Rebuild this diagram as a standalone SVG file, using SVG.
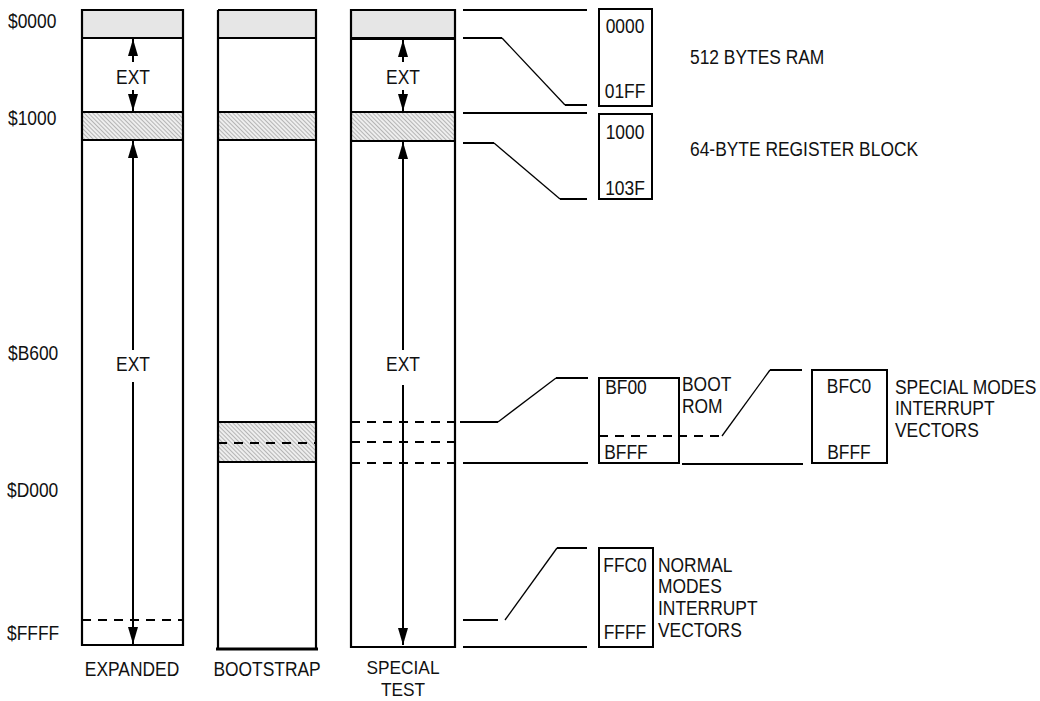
<svg xmlns="http://www.w3.org/2000/svg" width="1040" height="701" viewBox="0 0 1040 701">
<style>
text{font-family:"Liberation Sans",Arial,sans-serif;font-size:20px;fill:#111}
.m{text-anchor:middle}
.s{font-size:19px}
.col{fill:none;stroke:#000;stroke-width:2.2}
.ln{fill:none;stroke:#000;stroke-width:2}
.thin{fill:none;stroke:#000;stroke-width:1.3}
.dash{fill:none;stroke:#000;stroke-width:2;stroke-dasharray:9,7}
.arr{stroke:#000;stroke-width:2;fill:none}
.box{fill:#fff;stroke:#000;stroke-width:2}
</style>
<defs>
<pattern id="hatch" patternUnits="userSpaceOnUse" width="3" height="3" patternTransform="rotate(-45)">
<rect width="3" height="3" fill="#eeeeee"/>
<line x1="0" y1="0" x2="0" y2="3" stroke="#8f8f8f" stroke-width="1.2"/>
</pattern>
<marker id="ah" viewBox="0 0 17 10" refX="17" refY="5" markerWidth="17" markerHeight="10" markerUnits="userSpaceOnUse" orient="auto">
<path d="M0,0 L17,5 L0,10 z" fill="#000"/>
</marker>
</defs>

<g id="labels">
<text transform="translate(8 28) scale(.87 1)">$0000</text>
<text transform="translate(8 125) scale(.87 1)">$1000</text>
<text transform="translate(8 360) scale(.87 1)">$B600</text>
<text transform="translate(7 497) scale(.87 1)">$D000</text>
<text transform="translate(7 640) scale(.87 1)">$FFFF</text>
</g>

<g id="col-expanded">
<rect x="82" y="10" width="101" height="28" fill="#e6e6e6"/>
<rect x="82" y="112" width="101" height="28" fill="url(#hatch)"/>
<path class="col" d="M82,10 H183 V645 H82 Z M82,38 H183 M82,112 H183 M82,140 H183"/>
<path class="dash" d="M82,620 H183"/>
<text class="m" transform="translate(133 84) scale(.87 1)">EXT</text>
<text class="m" transform="translate(133 371) scale(.87 1)">EXT</text>
<text class="m" transform="translate(132 676) scale(.87 1)">EXPANDED</text>
</g>

<g id="col-bootstrap">
<rect x="218" y="10" width="98" height="28" fill="#e6e6e6"/>
<rect x="218" y="112" width="98" height="28" fill="url(#hatch)"/>
<rect x="218" y="422" width="98" height="40" fill="url(#hatch)"/>
<path class="col" d="M218,10 H316 V648 M218,10 V648 M218,38 H316 M218,112 H316 M218,140 H316 M218,422 H316 M218,462 H316"/>
<path class="ln" d="M216,649 H318" style="stroke-width:3"/>
<path class="dash" d="M218,443 H316"/>
<text class="m" transform="translate(267 676) scale(.87 1)">BOOTSTRAP</text>
</g>

<g id="col-special">
<rect x="351" y="10" width="104" height="28" fill="#e6e6e6"/>
<rect x="351" y="112" width="104" height="29" fill="url(#hatch)"/>
<path class="col" d="M351,10 H455 V647 H351 Z M351,112 H455 M351,141 H455"/>
<path class="ln" d="M351,38.5 H455" style="stroke-width:3"/>
<path class="dash" d="M351,422 H455 M351,442 H455 M351,463 H455"/>
<text class="m" transform="translate(403 84) scale(.87 1)">EXT</text>
<text class="m" transform="translate(403 371) scale(.87 1)">EXT</text>
<text class="m s" transform="translate(403 674) scale(.91 1)">SPECIAL</text>
<text class="m s" transform="translate(403 696) scale(.91 1)">TEST</text>
</g>

<g id="connectors">
<line class="arr" x1="133" y1="62" x2="133" y2="39" marker-end="url(#ah)"/>
<line class="arr" x1="133" y1="90" x2="133" y2="111" marker-end="url(#ah)"/>
<line class="arr" x1="133" y1="350" x2="133" y2="141" marker-end="url(#ah)"/>
<line class="arr" x1="133" y1="382" x2="133" y2="644" marker-end="url(#ah)"/>
<line class="arr" x1="403" y1="62" x2="403" y2="40" marker-end="url(#ah)"/>
<line class="arr" x1="403" y1="90" x2="403" y2="111" marker-end="url(#ah)"/>
<line class="arr" x1="403" y1="350" x2="403" y2="142" marker-end="url(#ah)"/>
<line class="arr" x1="403" y1="385" x2="403" y2="645" marker-end="url(#ah)"/>

<path class="ln" d="M463,10 H587"/>
<path class="ln" d="M463,38 H502"/>
<path class="thin" d="M502,38 L565,105"/>
<path class="ln" d="M565,105 H587"/>
<path class="ln" d="M463,113 H587"/>
<path class="ln" d="M463,143 H494"/>
<path class="thin" d="M494,143 L560,199"/>
<path class="ln" d="M560,199 H587"/>

<path class="ln" d="M460,422 H498"/>
<path class="thin" d="M498,422 L556,378"/>
<path class="ln" d="M556,378 H588"/>
<path class="ln" d="M463,463 H588"/>
<path class="ln" d="M682,464 H803"/>
<path class="dash" d="M598,436 H722"/>
<path class="thin" d="M722,436 L770,370"/>
<path class="ln" d="M770,370 H802"/>

<path class="ln" d="M463,620 H498"/>
<path class="thin" d="M505,620 L557,548"/>
<path class="ln" d="M557,548 H587"/>
<path class="ln" d="M463,647 H587"/>
</g>

<g id="box-ram">
<rect class="box" x="599" y="9" width="53" height="97"/>
<text class="m" transform="translate(625 33) scale(.87 1)">0000</text>
<text class="m" transform="translate(625 98) scale(.87 1)">01FF</text>
<text transform="translate(690 64) scale(.87 1)">512 BYTES RAM</text>
</g>

<g id="box-reg">
<rect class="box" x="599" y="114" width="53" height="85"/>
<text class="m" transform="translate(625 139) scale(.87 1)">1000</text>
<text class="m" transform="translate(625 195) scale(.87 1)">103F</text>
<text transform="translate(690 156) scale(.87 1)">64-BYTE REGISTER BLOCK</text>
</g>

<g id="box-boot">
<rect class="box" x="599" y="378" width="80" height="85"/>
<path class="dash" d="M599,436 H679"/>
<text class="m" transform="translate(626 394) scale(.87 1)">BF00</text>
<text class="m" transform="translate(626 459) scale(.87 1)">BFFF</text>
<text transform="translate(682 391) scale(.87 1)">BOOT</text>
<text transform="translate(682 413) scale(.87 1)">ROM</text>
</g>

<g id="box-special-vectors">
<rect class="box" x="812" y="370" width="75" height="93"/>
<text class="m" transform="translate(849 393) scale(.87 1)">BFC0</text>
<text class="m" transform="translate(849 459) scale(.87 1)">BFFF</text>
<text transform="translate(895 394) scale(.87 1)">SPECIAL MODES</text>
<text transform="translate(895 415) scale(.87 1)">INTERRUPT</text>
<text transform="translate(895 437) scale(.87 1)">VECTORS</text>
</g>

<g id="box-normal-vectors">
<rect class="box" x="599" y="548" width="54" height="99"/>
<text class="m" transform="translate(625 572) scale(.87 1)">FFC0</text>
<text class="m" transform="translate(625 639) scale(.87 1)">FFFF</text>
<text transform="translate(658 572) scale(.87 1)">NORMAL</text>
<text transform="translate(658 593) scale(.87 1)">MODES</text>
<text transform="translate(658 615) scale(.87 1)">INTERRUPT</text>
<text transform="translate(658 637) scale(.87 1)">VECTORS</text>
</g>
</svg>
